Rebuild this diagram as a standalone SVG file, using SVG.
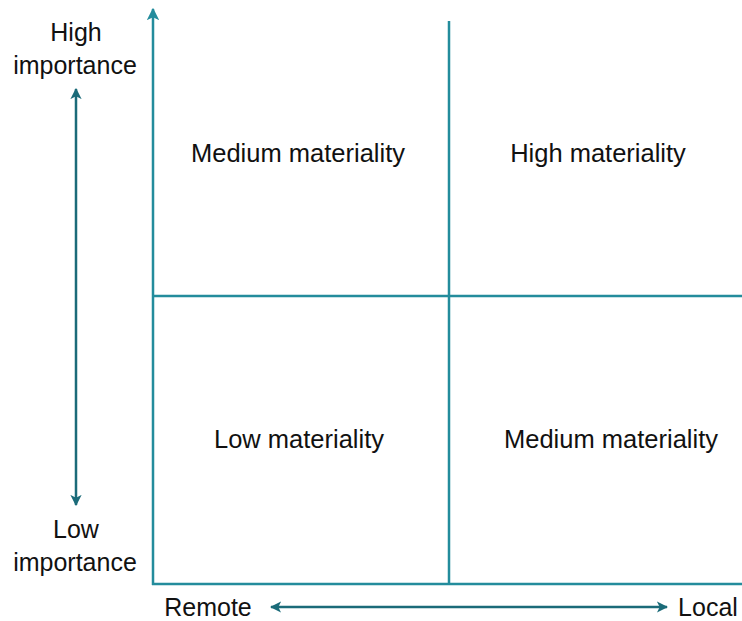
<svg xmlns="http://www.w3.org/2000/svg" width="742" height="621" viewBox="0 0 742 621">
<style>
.ax{stroke:#238c9c;stroke-width:2.5;fill:none}
.dbl{stroke:#1b6b79;stroke-width:2.5;fill:none}
text{font-family:"Liberation Sans",Arial,sans-serif;font-size:25px;fill:#111;text-anchor:middle}
.q{font-size:25.5px}
</style>
<defs>
<marker id="ha" viewBox="0 0 10 10" refX="9" refY="5" markerWidth="5" markerHeight="5" orient="auto" markerUnits="strokeWidth">
<path d="M0,0 L10,5 L0,10 L2.5,5 Z" fill="#238c9c"/>
</marker>
<marker id="hd" viewBox="0 0 10 10" refX="9" refY="5" markerWidth="4.5" markerHeight="4.5" orient="auto-start-reverse" markerUnits="strokeWidth">
<path d="M0,0 L10,5 L0,10 L2.5,5 Z" fill="#1b6b79"/>
</marker>
</defs>
<g id="connectors">
<line class="ax" x1="153" y1="585" x2="153" y2="9" marker-end="url(#ha)"/>
<line class="ax" x1="152" y1="584" x2="742" y2="584"/>
<line class="ax" x1="449" y1="21" x2="449" y2="584"/>
<line class="ax" x1="153" y1="296" x2="742" y2="296"/>
<line class="dbl" x1="76" y1="89" x2="76" y2="505" marker-start="url(#hd)" marker-end="url(#hd)"/>
<line class="dbl" x1="271" y1="607" x2="667" y2="607" marker-start="url(#hd)" marker-end="url(#hd)"/>
</g>
<g id="label-high-importance">
<text x="76" y="41">High</text>
<text x="75" y="74">importance</text>
</g>
<g id="label-low-importance">
<text x="76" y="538">Low</text>
<text x="75" y="571">importance</text>
</g>
<g id="label-remote"><text x="208" y="616">Remote</text></g>
<g id="label-local"><text x="708" y="616">Local</text></g>
<g id="q-top-left"><text class="q" x="298" y="162">Medium materiality</text></g>
<g id="q-top-right"><text class="q" x="598" y="162">High materiality</text></g>
<g id="q-bottom-left"><text class="q" x="299" y="448">Low materiality</text></g>
<g id="q-bottom-right"><text class="q" x="611" y="448">Medium materiality</text></g>
</svg>
